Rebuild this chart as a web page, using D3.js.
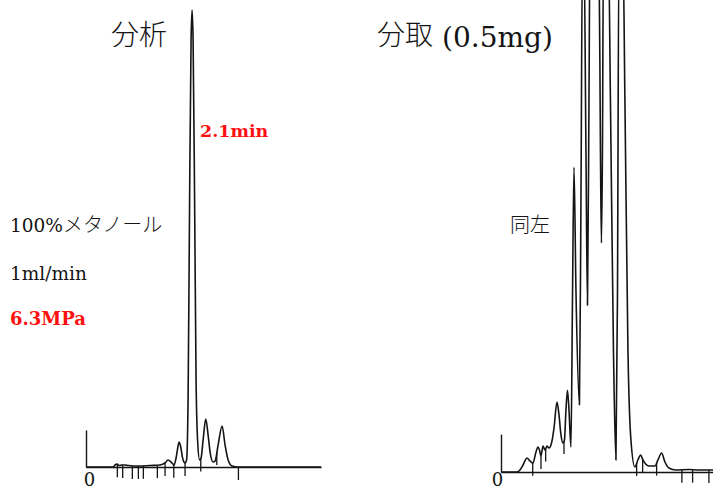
<!DOCTYPE html>
<html><head><meta charset="utf-8">
<script src="https://cdn.jsdelivr.net/npm/d3@7"></script>
<style>
html,body{margin:0;padding:0;background:#fff;}
svg{display:block;}
</style></head>
<body>
<svg id="c" width="713" height="491"></svg>
<script>
// ---- data (time in min, signal in relative units; main peak = 100) ----
const leftTime   = [0,0.535,0.574,0.614,0.653,0.713,0.772,0.832,0.931,1.069,1.267,1.465,1.564,1.624,1.683,1.743,1.782,1.822,1.842,1.871,1.911,1.960,1.990,2.020,2.050,2.079,2.099,2.119,2.149,2.178,2.208,2.248,2.277,2.317,2.370,2.416,2.455,2.515,2.554,2.614,2.693,2.752,2.812,2.891,3.010,4.653];
const leftSignal = [0,0,0.44,0.66,0.33,0.44,0.44,0.33,0.22,0.22,0.33,0.44,0.88,1.53,1.09,0.44,1.97,4.6,5.47,4.6,1.97,0.88,1.53,14.7,58.4,93.4,100,93.4,58.4,19.0,5.9,1.53,1.97,5.9,10.5,7.0,3.28,1.09,1.31,4.8,8.97,4.8,1.53,0.22,0,0];
const leftMarks  = [0.620,0.726,0.917,1.036,1.135,1.412,1.564,1.737,1.960,2.271,2.588,3.016];

const rightTime   = [0,0.317,0.376,0.436,0.515,0.574,0.634,0.693,0.733,0.772,0.792,0.832,0.871,0.911,0.950,1.010,1.050,1.109,1.149,1.188,1.228,1.257,1.287,1.317,1.347,1.386,1.416,1.446,1.485,1.554,1.584,1.614,1.644,1.683,1.713,1.743,1.762,1.941,1.970,1.990,2.010,2.030,2.129,2.168,2.228,2.277,2.307,2.337,2.416,2.455,2.515,2.574,2.653,2.713,2.766,2.812,2.865,2.931,3.050,3.109,3.182,3.248,3.327,3.465,3.723,3.921,4.218];
const rightSignal = [0,0,0.44,1.53,3.06,2.41,1.97,4.38,5.47,4.38,3.5,5.69,4.81,5.69,5.25,6.78,9.63,15.3,12.5,8.1,6.35,7.0,13.6,17.9,13.6,5.47,37.6,66.7,39.8,14.7,59.5,114,114,70.5,36.5,81.4,114,114,70.5,50.1,70.5,114,114,81.4,26.7,2.63,37.6,114,114,81.4,26.7,7.0,1.09,2.63,3.72,2.63,1.75,1.31,1.31,2.63,4.16,2.19,0.88,0.44,0.55,0.44,0.44];
const rightMarks  = [0.628,0.792,0.885,1.248,2.687,2.806,3.083,3.584,3.796,4.119];

const originLabel = [0];
const titleLeft  = "分析";
const titleRightCJK = "分取";
const titleRightLat = "(0.5mg)";
const peakLabel  = "2.1min";
const condLines  = ["100%メタノール", "1ml/min", "6.3MPa"];
const sameLabel  = "同左";

// ---- drawing ----
const svg = d3.select("#c");
const ink = "#141414";
const red = "#ff1010";
const cjk = "'Noto Sans CJK JP', sans-serif";
const lat = "'DejaVu Serif', 'Liberation Serif', serif";

const xL = d3.scaleLinear().domain([0, 4.65]).range([86, 321]);
const yL = d3.scaleLinear().domain([0, 100]).range([467, 10]);
const xR = d3.scaleLinear().domain([0, 4.22]).range([501, 714]);
const yR = d3.scaleLinear().domain([0, 100]).range([472, 15]);

function interp(times, sig, t){
  const i = d3.bisectLeft(times, t);
  if (i <= 0) return sig[0];
  if (i >= times.length) return sig[sig.length-1];
  const t0 = times[i-1], t1 = times[i];
  const f = (t - t0) / (t1 - t0);
  return sig[i-1] + f * (sig[i] - sig[i-1]);
}

function chromatogram(times, sig, marks, x, y, barTop, labelDx, labelY){
  const g = svg.append("g");
  const ax = g.append("g")
    .attr("transform", `translate(0,${y(0)})`)
    .call(d3.axisBottom(x).tickValues(originLabel).tickFormat(d3.format("d")).tickSize(0).tickSizeOuter(0));
  ax.select(".domain").attr("stroke", ink).attr("stroke-width", 1.3);
  ax.selectAll(".tick text")
    .attr("font-family", lat)
    .attr("font-size", 18).attr("fill", ink)
    .attr("x", labelDx).attr("y", labelY).attr("dy", 0);
  const yb = d3.scaleLinear().domain([0, barTop]).range([y(0), y(barTop)]);
  const ay = g.append("g")
    .attr("transform", `translate(${x(0)},0)`)
    .call(d3.axisLeft(yb).tickValues([]).tickSizeOuter(0));
  ay.select(".domain").attr("stroke", ink).attr("stroke-width", 1.4);
  const line = d3.line().x((d,i)=>x(times[i])).y((d,i)=>y(sig[i])).curve(d3.curveMonotoneX);
  g.append("path").datum(sig).attr("d", line)
    .attr("fill", "none").attr("stroke", ink).attr("stroke-width", 1.6)
    .attr("stroke-linejoin", "round");
  g.selectAll("line.mk").data(marks).join("line")
    .attr("x1", d=>x(d)).attr("x2", d=>x(d))
    .attr("y1", d=>y(interp(times, sig, d)))
    .attr("y2", d=>y(interp(times, sig, d)) + 13)
    .attr("stroke", ink).attr("stroke-width", 1.3);
}

chromatogram(leftTime, leftSignal, leftMarks, xL, yL, 8.1, 3, 19);
chromatogram(rightTime, rightSignal, rightMarks, xR, yR, 8.3, -4, 14);

// ---- texts ----
svg.append("text").attr("x", 111).attr("y", 45)
  .attr("font-family", cjk).attr("font-weight", 300).attr("font-size", 28).attr("fill", ink)
  .text(titleLeft);

const tr = svg.append("text").attr("x", 377).attr("y", 45).attr("fill", ink);
tr.append("tspan").attr("font-family", cjk).attr("font-weight", 300).attr("font-size", 28).text(titleRightCJK);
tr.append("tspan").attr("dx", 9).attr("dy", 2).attr("font-family", lat).attr("font-size", 28).text(titleRightLat);

svg.append("text").attr("x", 200).attr("y", 137)
  .attr("font-family", lat).attr("font-weight", "bold")
  .attr("font-size", 17.5).attr("fill", red).text(peakLabel);

const condY = [232, 280, 325];
condLines.forEach((s, i) => {
  const t = svg.append("text").attr("x", 10).attr("y", condY[i])
    .attr("fill", i === 2 ? red : ink)
    .attr("font-weight", i === 2 ? "bold" : "normal");
  s.match(/[\x00-\x7f]+|[^\x00-\x7f]+/g).forEach(part => {
    const isAscii = /^[\x00-\x7f]+$/.test(part);
    t.append("tspan")
      .attr("font-family", isAscii ? lat : cjk)
      .attr("font-weight", isAscii ? null : 300)
      .attr("font-size", isAscii ? (i === 2 ? 18 : 18.5) : 20)
      .text(part);
  });
});

svg.append("text").attr("x", 510).attr("y", 232)
  .attr("font-family", cjk).attr("font-weight", 300).attr("font-size", 20).attr("fill", ink)
  .text(sameLabel);
</script>
</body></html>
